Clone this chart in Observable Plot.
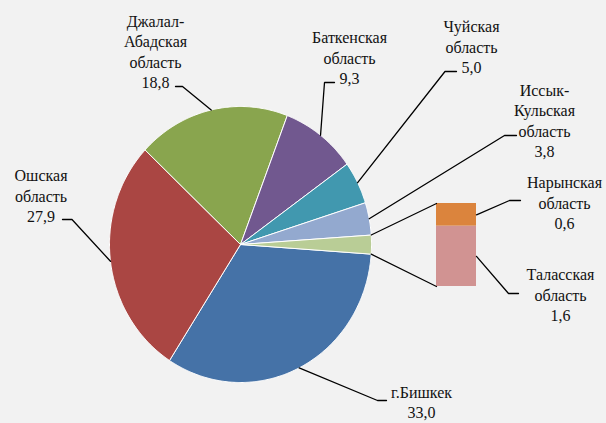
<!DOCTYPE html>
<html>
<head>
<meta charset="utf-8">
<script src="https://cdn.jsdelivr.net/npm/d3@7"></script>
<script src="https://cdn.jsdelivr.net/npm/@observablehq/plot@0.6"></script>
<style>
  html, body { margin: 0; padding: 0; background: #f2f2f2; font-family: "Liberation Serif", serif; }
  #chart svg { display: block; background: #f2f2f2; }
</style>
</head>
<body>
<div id="chart"></div>
<script>
// ---- data ----
const pieNames = ["г.Бишкек", "Ошская\nобласть", "Джалал-\nАбадская\nобласть", "Баткенская\nобласть", "Чуйская\nобласть", "Иссык-\nКульская\nобласть"];
const pieValues = [33.0, 27.9, 18.8, 9.3, 5.0, 3.8];
const pieColors = ["#4572a7", "#aa4643", "#89a54e", "#71588f", "#4198af", "#93a9cf"];
const barNames = ["Таласская\nобласть", "Нарынская\nобласть"];
const barValues = [1.6, 0.6];
const barColors = ["#d19392", "#db843d"];
const otherColor = "#b9cd96";

// ---- layout ----
const W = 606, H = 423;
const cx = 240, cy = 244, rx = 131, ry = 138, startDeg = 4;
const bar = {x0: 436, x1: 476, bottom: 286, top: 203};
const pieLabelPos = [[421, 401], [40.5, 194.5], [155, 50.5], [349, 56.5], [471, 45.5], [544, 119.5]];
const pieElbows = [[377, 400, 386], [71.5, 219, 62], [182, 86, 175], [324, 82, 334], [444.5, 71, 456], [504, 135, 516]];
const barLabelPos = [[560, 293.5], [564, 201.5]];
const barElbows = [[508, 293, 518], [509, 200, 520]];

const fmt = v => v.toFixed(1).replace(".", ",");
const otherValue = d3.sum(barValues);
const total = d3.sum(pieValues) + otherValue;

const slices = [];
let a = startDeg;
pieValues.forEach((v, i) => {
  const span = v / total * 360;
  slices.push({name: pieNames[i], value: v, color: pieColors[i], a0: a, a1: a + span});
  a += span;
});
const otherSlice = {name: "other", value: otherValue, color: otherColor, a0: a, a1: a + otherValue / total * 360};
const allSlices = [...slices, otherSlice];

const rad = d => d * Math.PI / 180;
const ePt = deg => [cx + rx * Math.cos(rad(deg)), cy + ry * Math.sin(rad(deg))];

const slicePts = [];
allSlices.forEach(s => {
  slicePts.push({name: s.name, color: s.color, x: cx, y: cy});
  const n = Math.max(2, Math.ceil((s.a1 - s.a0) / 0.5));
  for (let k = 0; k <= n; k++) {
    const [x, y] = ePt(s.a0 + (s.a1 - s.a0) * k / n);
    slicePts.push({name: s.name, color: s.color, x, y});
  }
  slicePts.push({name: s.name, color: s.color, x: cx, y: cy});
});

// bar segments
const k = (bar.bottom - bar.top) / otherValue;
const barSegs = [];
let acc = 0;
barValues.forEach((v, i) => {
  barSegs.push({name: barNames[i], value: v, color: barColors[i],
    y1: bar.bottom - acc * k, y2: bar.bottom - (acc + v) * k});
  acc += v;
});

// leader lines
const leaders = [];
slices.forEach((s, i) => {
  const [x, y] = ePt((s.a0 + s.a1) / 2);
  const [ex, ey, sx] = pieElbows[i];
  leaders.push({id: "p" + i, x, y}, {id: "p" + i, x: ex, y: ey}, {id: "p" + i, x: sx, y: ey});
});
barSegs.forEach((s, i) => {
  const ym = (s.y1 + s.y2) / 2;
  const [ex, ey, sx] = barElbows[i];
  leaders.push({id: "b" + i, x: bar.x1, y: ym}, {id: "b" + i, x: ex, y: ey}, {id: "b" + i, x: sx, y: ey});
});
// connectors pie -> bar
const [tx, ty] = ePt(otherSlice.a0);
const [bx, by] = ePt(otherSlice.a1);
const connectors = [
  {id: "c0", x: tx, y: ty}, {id: "c0", x: bar.x0, y: bar.top},
  {id: "c1", x: bx, y: by}, {id: "c1", x: bar.x0, y: bar.bottom}
];

const labels = [
  ...slices.map((s, i) => ({label: s.name + "\n" + fmt(s.value), x: pieLabelPos[i][0], y: pieLabelPos[i][1]})),
  ...barSegs.map((s, i) => ({label: s.name + "\n" + fmt(s.value), x: barLabelPos[i][0], y: barLabelPos[i][1]}))
];

const chart = Plot.plot({
  width: W, height: H,
  margin: 0,
  x: {type: "identity", axis: null},
  y: {type: "identity", axis: null},
  color: {type: "identity"},
  style: {background: "#f2f2f2", fontFamily: "Liberation Serif"},
  marks: [
    Plot.line(slicePts, {x: "x", y: "y", z: "name", fill: "color", stroke: "white", strokeWidth: 1, strokeLinejoin: "round", curve: "linear"}),
    Plot.rect(barSegs, {x1: () => bar.x0, x2: () => bar.x1, y1: "y1", y2: "y2", fill: "color"}),
    Plot.line(connectors, {x: "x", y: "y", z: "id", stroke: "#000", strokeWidth: 1.2}),
    Plot.line(leaders, {x: "x", y: "y", z: "id", stroke: "#000", strokeWidth: 1.3, strokeLinejoin: "miter"}),
    Plot.text(labels, {x: "x", y: "y", text: "label", textAnchor: "middle", lineAnchor: "middle", lineHeight: 1.27,
      fontSize: 16, fontFamily: "Liberation Serif", fill: "#111"})
  ]
});
// make sure the serif face reaches every text node
d3.select(chart).selectAll("text, tspan")
  .attr("font-family", "Liberation Serif")
  .style("font-family", "'Liberation Serif', serif");
const st = document.createElementNS("http://www.w3.org/2000/svg", "style");
st.textContent = "text, tspan { font-family: 'Liberation Serif', serif; }";
chart.insertBefore(st, chart.firstChild);
document.getElementById("chart").appendChild(chart);
</script>
</body>
</html>
